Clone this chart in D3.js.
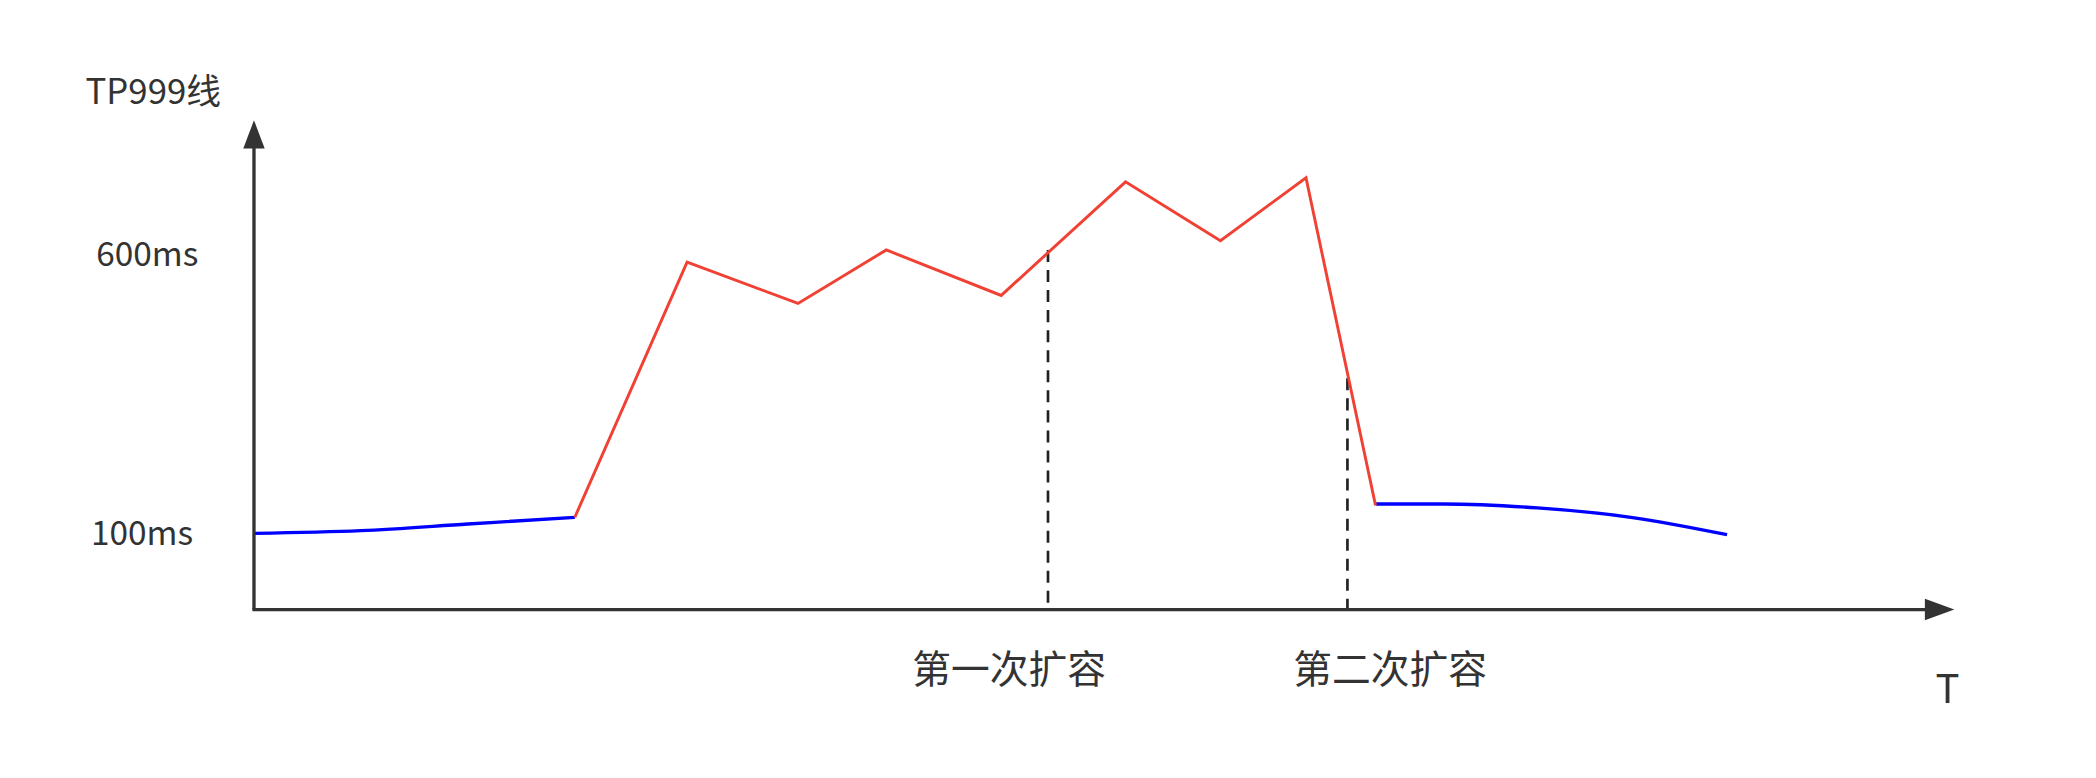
<!DOCTYPE html><html><head><meta charset="utf-8"><script src="https://cdn.jsdelivr.net/npm/d3@7"></script>
<style>body{margin:0;background:#fff}text{font-family:"Noto Sans CJK SC","Noto Sans",sans-serif;fill:#333}</style></head><body>
<svg id="c" width="2096" height="778" viewBox="0 0 1568 582"></svg>
<script>
const blue1T=[0,80,160,240], blue1V=[100,104.8,116.7,128.7];
const redT=[240,324,407,473,559,652,723,787,839], redV=[128.7,585.6,511.5,607.2,525.8,729.2,623.9,736.4,150.2];
const blue2T=[839,890,960,1030,1102], blue2V=[152.6,152.6,145.5,128.7,97.6];
const expandT=[594,818], expandTop=[607.2,377.5], expandLabels=["第一次扩容","第二次扩容"];
const yTicks=[100,600], yTickLabels=["100ms","600ms"];
const svg=d3.select("#c");
const x=d3.scaleLinear().domain([0,1272]).range([190,1462]);
const y=d3.scaleLinear().domain([100,600]).range([399,190]);
const y0=456;
const labelShift=[-29,32];
const line=d3.line().x(d=>x(d[0])).y(d=>y(d[1]));
const line2=d3.line().x(d=>x(d[0])).y(d=>y(d[1])).curve(d3.curveMonotoneX);
expandT.forEach((t,i)=>{svg.append("line").attr("x1",x(t)).attr("x2",x(t)).attr("y1",y(expandTop[i])).attr("y2",y0).attr("stroke","#222").attr("stroke-width",2).attr("stroke-dasharray","9,6");
 svg.append("text").attr("x",x(t)+labelShift[i]).attr("y",511).attr("text-anchor","middle").attr("font-size",29).text(expandLabels[i]);});
svg.append("path").attr("d",line2(blue1T.map((t,i)=>[t,blue1V[i]]))).attr("fill","none").attr("stroke","#0000ff").attr("stroke-width",2.5);
svg.append("path").attr("d",line2(blue2T.map((t,i)=>[t,blue2V[i]]))).attr("fill","none").attr("stroke","#0000ff").attr("stroke-width",2.5);
svg.append("path").attr("d",line(redT.map((t,i)=>[t,redV[i]]))).attr("fill","none").attr("stroke","#f04134").attr("stroke-width",2.2);
svg.append("line").attr("x1",190).attr("x2",190).attr("y1",y0).attr("y2",108).attr("stroke","#333").attr("stroke-width",2.5);
svg.append("path").attr("d","M190,90 L182,111 L198,111 Z").attr("fill","#333");
svg.append("line").attr("x1",188.8).attr("x2",1444).attr("y1",y0).attr("y2",y0).attr("stroke","#333").attr("stroke-width",2.5);
svg.append("path").attr("d","M1462,456 L1440,448 L1440,464 Z").attr("fill","#333");
const tickX=[68,72];
yTicks.forEach((v,i)=>svg.append("text").attr("x",tickX[i]).attr("y",y(v)+9).attr("font-size",25).text(yTickLabels[i]));
svg.append("text").attr("x",64).attr("y",78).attr("font-size",26).text("TP999线");
svg.append("text").attr("x",1457).attr("y",526).attr("text-anchor","middle").attr("font-size",30).text("T");
</script></body></html>
